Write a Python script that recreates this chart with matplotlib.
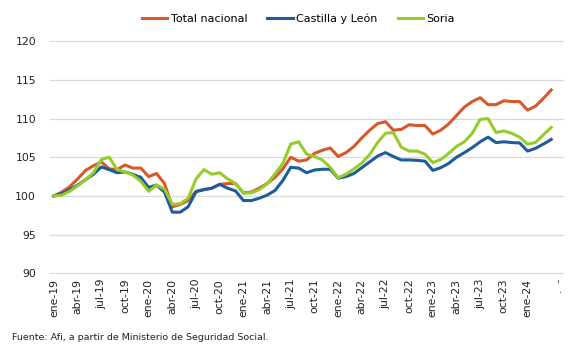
import numpy as np
import matplotlib
matplotlib.use("Agg")
import matplotlib.pyplot as plt

# Afiliados a la Seguridad Social, índice ene-19 = 100 (ene-19 a abr-24)
MESES = ["ene", "feb", "mar", "abr", "may", "jun", "jul", "ago", "sep", "oct", "nov", "dic"]
ANIOS = ["19", "20", "21", "22", "23", "24"]
categorias = [m + "-" + a for a in ANIOS for m in MESES][:64]

total_nacional = [
    100.0, 100.5, 101.2, 102.2, 103.3, 103.9, 104.4, 103.5, 103.4, 104.0, 103.6, 103.6,
    102.5, 102.9, 101.6, 98.6, 98.9, 99.4, 100.6, 100.85, 101.0, 101.5, 101.6, 101.6,
    100.4, 100.5, 101.0, 101.6, 102.4, 103.5, 105.0, 104.5, 104.65, 105.5, 105.9, 106.2,
    105.1, 105.6, 106.4, 107.5, 108.5, 109.35, 109.6, 108.5, 108.6, 109.2, 109.1, 109.1,
    108.0, 108.5, 109.3, 110.4, 111.5, 112.2, 112.7, 111.8, 111.8, 112.3, 112.2, 112.2,
    111.1, 111.6, 112.6, 113.7,
]
castilla_leon = [
    100.0, 100.3, 100.8, 101.4, 102.1, 102.8, 103.75, 103.4, 103.0, 103.1, 102.8, 102.4,
    101.1, 101.4, 100.5, 97.9, 97.9, 98.6, 100.55, 100.8, 101.0, 101.5, 101.0, 100.65,
    99.4, 99.4, 99.7, 100.1, 100.7, 102.0, 103.7, 103.6, 103.0, 103.35, 103.45, 103.45,
    102.3, 102.5, 102.9, 103.65, 104.4, 105.15, 105.6, 105.1, 104.65, 104.65, 104.6, 104.5,
    103.3, 103.65, 104.2, 105.0, 105.6, 106.25, 107.0, 107.6, 106.9, 107.0, 106.9, 106.85,
    105.8, 106.15, 106.7, 107.3,
]
soria = [
    100.0, 100.1, 100.6, 101.3, 102.1, 103.0, 104.7, 105.0, 103.4, 103.1, 102.7, 101.9,
    100.6, 101.4, 100.9, 98.9, 99.0, 99.7, 102.2, 103.4, 102.8, 103.0, 102.2, 101.6,
    100.35, 100.4, 100.8, 101.55, 102.85, 104.2, 106.7, 107.0, 105.4, 105.1, 104.65, 103.7,
    102.35, 102.8, 103.5, 104.25, 105.35, 106.9, 108.1, 108.2, 106.3, 105.8, 105.8, 105.4,
    104.3, 104.7, 105.5, 106.4, 107.0, 108.1, 109.9, 110.0, 108.2, 108.4, 108.1, 107.6,
    106.7, 106.9, 107.9, 108.85,
]

series = [
    ("Total nacional", total_nacional, "#D9582B"),
    ("Castilla y León", castilla_leon, "#1C5D9B"),
    ("Soria", soria, "#96CC2A"),
]

# etiquetas del eje x: una cada tres meses y la última cortada
pos_ticks = list(range(0, 61, 3)) + [64]
etiquetas = [categorias[i] for i in range(0, 61, 3)] + [".  -"]

fig = plt.figure(figsize=(5.85, 3.57), dpi=100)
ax = fig.add_axes([0.0855, 0.2345, 0.877, 0.65])

x = np.arange(len(categorias))
for nombre, valores, color in series:
    ax.plot(x, valores, color=color, lw=2.2, label=nombre, solid_joinstyle="round")

ax.set_xlim(-0.5, 64.5)
ax.set_ylim(90, 120)
ax.set_yticks(range(90, 121, 5))
ax.set_xticks(pos_ticks)
ax.set_xticklabels(etiquetas, rotation=90, fontsize=7.8, color="#222222")
ax.tick_params(axis="y", labelsize=7.8, colors="#222222", length=0, pad=10)
ax.tick_params(axis="x", length=0, pad=4)

ax.grid(axis="y", color="#D9D9D9", lw=0.9)
for g in ax.get_ygridlines():
    g.set_clip_on(False)
ax.set_axisbelow(True)
for s in ax.spines.values():
    s.set_visible(False)

fig.legend(loc="center", bbox_to_anchor=(0.51, 0.948), ncol=3, frameon=False,
           fontsize=8, handlelength=2.3, handletextpad=0.3, columnspacing=1.8)

fig.text(0.02, 0.055, "Fuente: Afi, a partir de Ministerio de Seguridad Social.",
         fontsize=6.8, color="#222222", va="center")

fig.savefig("out.png", dpi=100)
